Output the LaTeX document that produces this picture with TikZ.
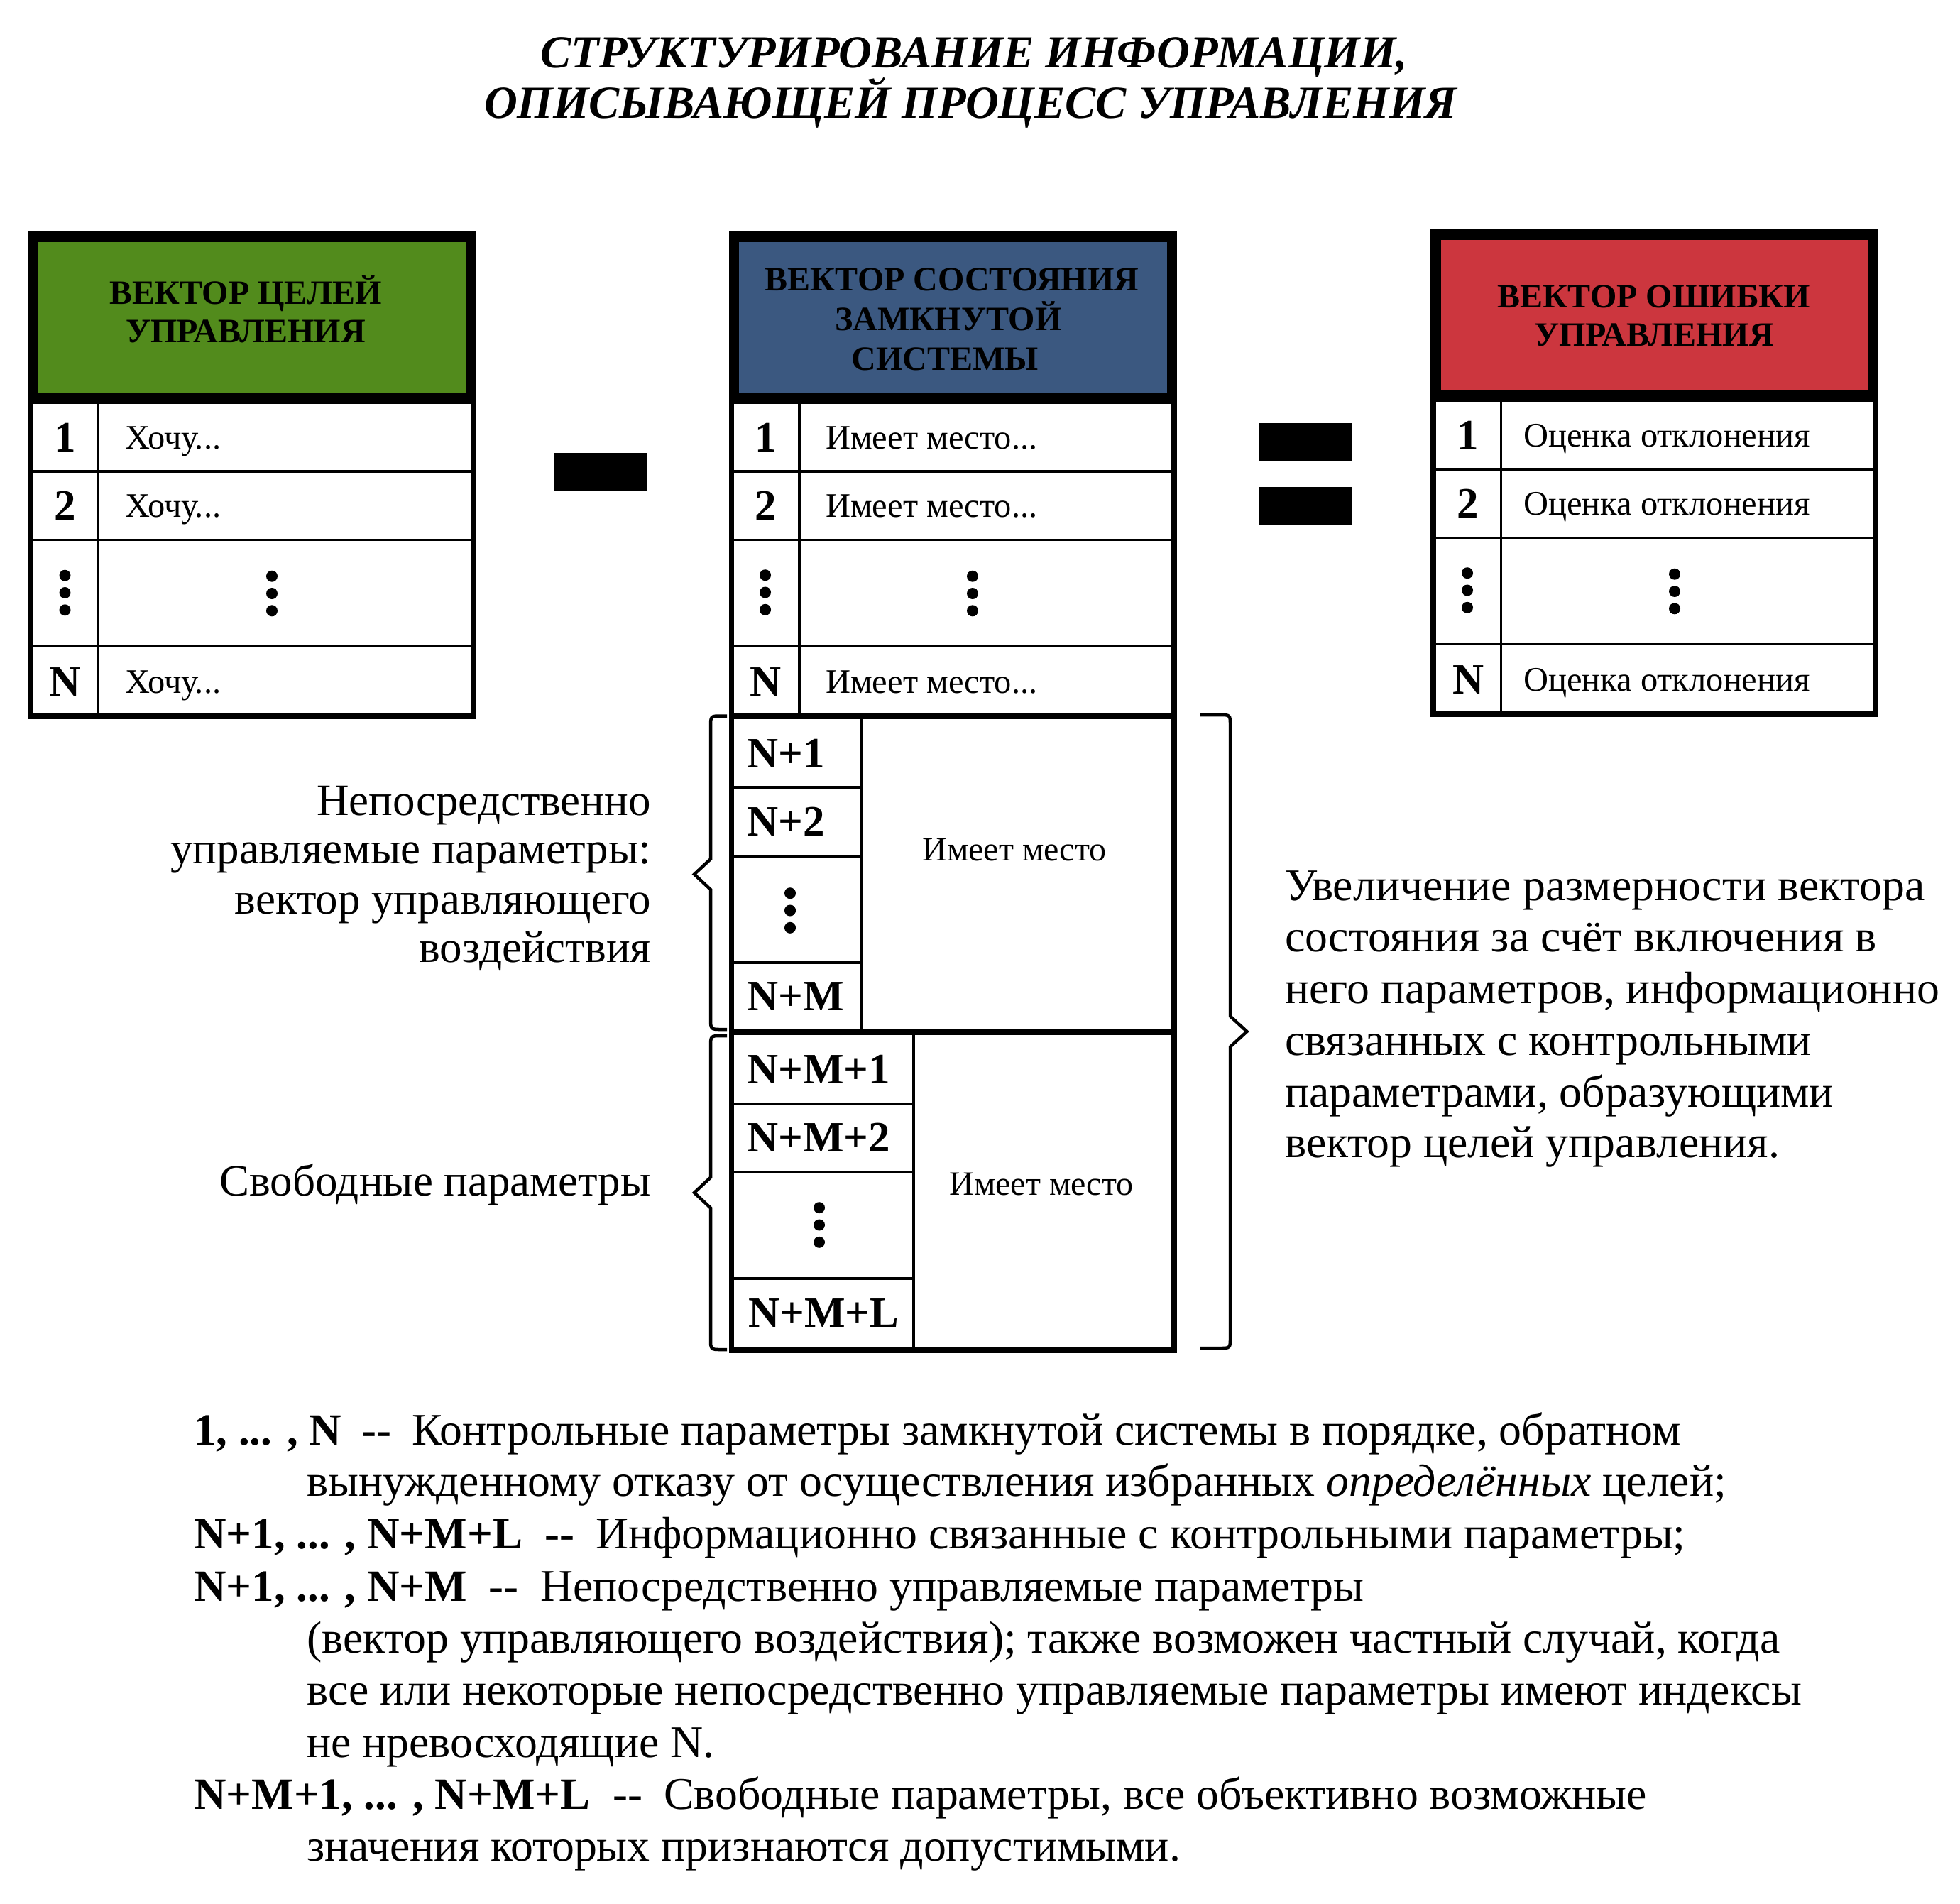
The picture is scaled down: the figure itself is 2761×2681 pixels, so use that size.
\documentclass[tikz,border=0pt]{standalone}
\usepackage{fontspec}
\setmainfont{Liberation Serif}
\definecolor{goalgreen}{RGB}{82,139,28}
\definecolor{stateblue}{RGB}{59,88,128}
\definecolor{errred}{RGB}{204,54,62}
\newcommand\dotcol[2]{\fill ({#1},{#2-24.3}) circle (8pt) ({#1},{#2}) circle (8pt) ({#1},{#2+24.3}) circle (8pt);}
\newcommand\vectable[3]{%
  \begin{scope}[shift={(#1,#2)}]
    \draw[hframe, fill=#3] (7.15,333.5) rectangle (623.85,560.5);
    \draw[frame] (3.75,564.8) rectangle (627.25,1009);
    \draw[thinln] (99,568) -- (99,1006);
    \foreach \yy in {664,760.5,910.6} \draw[thinln] (7.5,\yy) -- (623.5,\yy);
  \end{scope}}
\begin{document}
\begin{tikzpicture}[x=1pt,y=-1pt,
  hdr/.style={anchor=base, inner sep=0pt, font=\fontsize{48}{55}\selectfont\bfseries},
  num/.style={anchor=base, inner sep=0pt, font=\fontsize{61}{70}\selectfont\bfseries},
  numw/.style={anchor=base west, inner sep=0pt, font=\fontsize{61}{70}\selectfont\bfseries},
  cell/.style={anchor=base west, inner sep=0pt, font=\fontsize{48.5}{55}\selectfont},
  cellc/.style={anchor=base, inner sep=0pt, font=\fontsize{48}{55}\selectfont},
  big/.style={anchor=base west, inner sep=0pt, font=\fontsize{63.8}{72}\selectfont},
  bigr/.style={anchor=base east, inner sep=0pt, font=\fontsize{63}{72}\selectfont},
  bigb/.style={anchor=base west, inner sep=0pt, font=\fontsize{63}{72}\selectfont\bfseries},
  ttl/.style={anchor=base, inner sep=0pt, font=\fontsize{64.8}{76}\selectfont\bfseries\itshape},
  frame/.style={line width=7.5pt},
  hframe/.style={line width=14.3pt},
  thinln/.style={line width=3.6pt},
  brace/.style={line width=4.5pt},
  bar/.style={fill=black, inner sep=0pt, minimum width=131pt, minimum height=53pt}]
\useasboundingbox (0,0) rectangle (2761,2681);
\fill[white] (0,0) rectangle (2761,2681);

% title
\node[ttl] (t1) at (1372,96) {СТРУКТУРИРОВАНИЕ ИНФОРМАЦИИ,};
\node[ttl] (t2) at (1367,167) {ОПИСЫВАЮЩЕЙ ПРОЦЕСС УПРАВЛЕНИЯ};

% tables
\vectable{39.3}{0}{goalgreen}
\vectable{1026.8}{0}{stateblue}
\vectable{2015.3}{-3}{errred}

% left table text
\node[hdr] (g1) at (346,428.6) {ВЕКТОР ЦЕЛЕЙ};
\node[hdr] (g2) at (346,482.7) {УПРАВЛЕНИЯ};
\node[num] (gn1) at (92,636.7) {1};
\node[num] (gn2) at (92,732.2) {2};
\node[num] (gnN) at (92,980.2) {N};
\node[cell] (gc1) at (176,632.5) {Хочу...};
\node[cell] (gc2) at (176,728) {Хочу...};
\node[cell] (gcN) at (176,976) {Хочу...};
\dotcol{91.5}{835}
\dotcol{383}{836}

% middle table text
\node[hdr] (s1) at (1341,409) {ВЕКТОР СОСТОЯНИЯ};
\node[hdr] (s2) at (1336,465) {ЗАМКНУТОЙ};
\node[hdr] (s3) at (1331,521) {СИСТЕМЫ};
\node[num] (sn1) at (1079,636.7) {1};
\node[num] (sn2) at (1079,732.2) {2};
\node[num] (snN) at (1079,980.2) {N};
\node[cell] (sc1) at (1163,632.5) {Имеет место...};
\node[cell] (sc2) at (1163,728) {Имеет место...};
\node[cell] (scN) at (1163,976) {Имеет место...};
\dotcol{1078}{834.5}
\dotcol{1370}{836}

% right table text
\node[hdr] (e1) at (2330,433) {ВЕКТОР ОШИБКИ};
\node[hdr] (e2) at (2330,487) {УПРАВЛЕНИЯ};
\node[num] (en1) at (2068,633.7) {1};
\node[num] (en2) at (2068,729.2) {2};
\node[num] (enN) at (2068,977.2) {N};
\node[cell] (ec1) at (2146,629.5) {Оценка отклонения};
\node[cell] (ec2) at (2146,725) {Оценка отклонения};
\node[cell] (ecN) at (2146,973) {Оценка отклонения};
\dotcol{2067}{831.5}
\dotcol{2359}{833}

% operators
\node[bar] (minus) at (846.5,664.5) {};
\node[bar] (eqtop) at (1838.5,622.5) {};
\node[bar] (eqbot) at (1838.5,712.5) {};

% lower sections of the state vector
\draw[frame] (1030.55,1009) rectangle (1654.05,1454);
\draw[frame] (1030.55,1454) rectangle (1654.05,1902);
\draw[thinln] (1214,1013) -- (1214,1450);
\foreach \yy in {1109,1206,1356} \draw[thinln] (1034.3,\yy) -- (1214,\yy);
\draw[thinln] (1286.7,1458) -- (1286.7,1898);
\foreach \yy in {1554.5,1651.5,1801} \draw[thinln] (1034.3,\yy) -- (1286.7,\yy);
\node[numw] (m1) at (1052,1081) {N+1};
\node[numw] (m2) at (1052,1177.5) {N+2};
\node[numw] (mM) at (1052,1423) {N+M};
\node[numw] (f1) at (1052,1526.5) {N+M+1};
\node[numw] (f2) at (1052,1622.5) {N+M+2};
\node[numw] (fL) at (1054,1869.5) {N+M+L};
\dotcol{1113}{1282.5}
\dotcol{1154}{1725.5}
\node[cellc] (mtext) at (1429,1212) {Имеет место};
\node[cellc] (ftext) at (1467,1683) {Имеет место};

% braces
\draw[brace] (1024,1008.5) -- (1016,1008.5) .. controls (1001,1008.5) .. (1001,1024) -- (1001,1210) -- (978,1231.5) -- (1001,1253) -- (1001,1434) .. controls (1001,1450) .. (1016,1450) -- (1024,1450);
\draw[brace] (1024,1459) -- (1016,1459) .. controls (1001,1459) .. (1001,1475) -- (1001,1658.5) -- (978,1680) -- (1001,1701.5) -- (1001,1885) .. controls (1001,1901) .. (1016,1901) -- (1024,1901);
\draw[brace] (1690,1007) -- (1718,1007) .. controls (1733,1007) .. (1733,1022) -- (1733,1431.5) -- (1756.5,1453) -- (1733,1474.5) -- (1733,1884) .. controls (1733,1899) .. (1718,1899) -- (1690,1899);

% left labels
\node[bigr] (l1) at (917,1148.6) {Непосредственно};
\node[bigr] (l2) at (917,1216.7) {управляемые параметры:};
\node[bigr] (l3) at (917,1287.3) {вектор управляющего};
\node[bigr] (l4) at (917,1355.5) {воздействия};
\node[bigr] (l5) at (917,1684) {Свободные параметры};

% right text
\node[big] (r1) at (1810,1268) {Увеличение размерности вектора};
\node[big] (r2) at (1810,1340.5) {состояния за счёт включения в};
\node[big] (r3) at (1810,1413) {него параметров, информационно};
\node[big] (r4) at (1810,1486) {связанных с контрольными};
\node[big] (r5) at (1810,1559) {параметрами, образующими};
\node[big] (r6) at (1810,1630) {вектор целей управления.};

% bottom legend
\node[bigb] (p1) at (273,2035) {1, ... , N};
\node[bigb] (d1) at (509.5,2035) {-{}-};
\node[big] (x1) at (580,2035) {Контрольные параметры замкнутой системы в порядке, обратном};
\node[big] (x2) at (432,2107) {вынужденному отказу от осуществления избранных \textit{определённых} целей;};
\node[bigb] (p3) at (273,2181) {N+1, ... , N+M+L};
\node[bigb] (d3) at (767,2181) {-{}-};
\node[big] (x3) at (839,2181) {Информационно связанные с контрольными параметры;};
\node[bigb] (p4) at (273,2255) {N+1, ... , N+M};
\node[bigb] (d4) at (688,2255) {-{}-};
\node[big] (x4) at (761,2255) {Непосредственно управляемые параметры};
\node[big] (x5) at (432,2328) {(вектор управляющего воздействия); также возможен частный случай, когда};
\node[big] (x6) at (432,2401) {все или некоторые непосредственно управляемые параметры имеют индексы};
\node[big] (x7) at (432,2475) {не нревосходящие N.};
\node[bigb] (p8) at (273,2548) {N+M+1, ... , N+M+L};
\node[bigb] (d8) at (863,2548) {-{}-};
\node[big] (x8) at (935,2548) {Свободные параметры, все объективно возможные};
\node[big] (x9) at (432,2621) {значения которых признаются допустимыми.};
\end{tikzpicture}
\end{document}
